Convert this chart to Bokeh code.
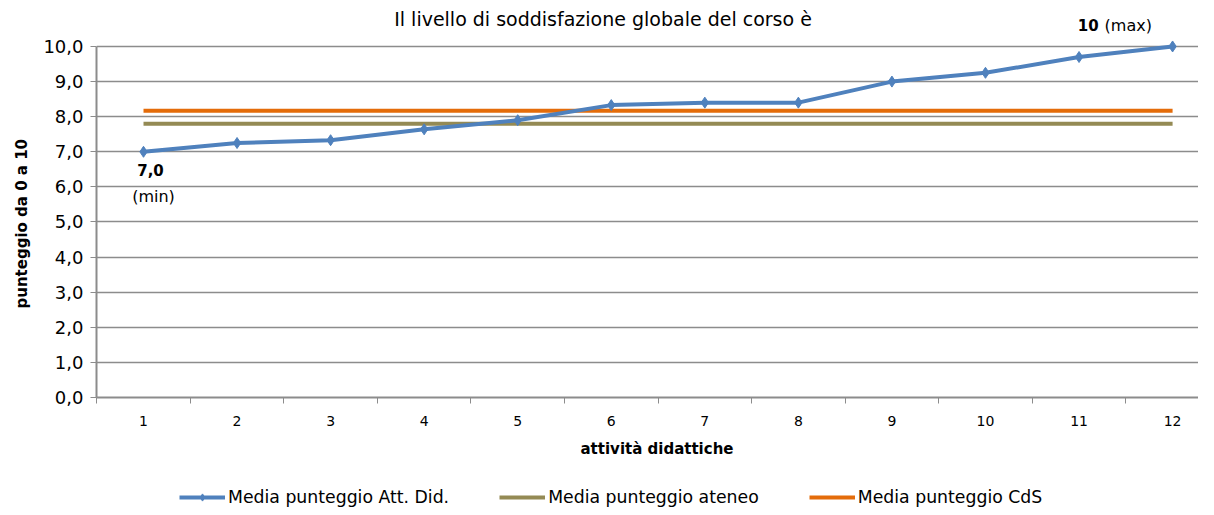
from bokeh.plotting import figure
from bokeh.layouts import column
from bokeh.models import (Range1d, FixedTicker, CustomJSTickFormatter, Legend, LegendItem,
                          Label, Title)
from bokeh.embed import file_html
from bokeh.resources import INLINE

# ---- data ----
attivita = [1, 2, 3, 4, 5, 6, 7, 8, 9, 10, 11, 12]
media_att_did = [7.0, 7.25, 7.33, 7.64, 7.9, 8.33, 8.4, 8.4, 9.0, 9.25, 9.7, 10.0]
media_ateneo = [7.8] * 12
media_cds = [8.17] * 12
y_ticks = [0, 1, 2, 3, 4, 5, 6, 7, 8, 9, 10]
series_names = ["Media punteggio Att. Did.", "Media punteggio ateneo", "Media punteggio CdS"]
min_label = "7,0"
max_label = "10"
title_text = "Il livello  di soddisfazione globale del corso è"
x_title = "attività didattiche"
y_title = "punteggio da 0 a 10"

FONT = "DejaVu Sans"
GRID = "#8c8c8c"
BLUE = "#4f81bd"
OLIVE = "#948a54"
ORANGE = "#e46c0a"

p = figure(width=1198, height=470, output_backend="svg", toolbar_location=None,
           x_range=Range1d(0.4976, 12.277), y_range=Range1d(0, 11.31),
           min_border_left=96, min_border_right=0, min_border_top=0,
           min_border_bottom=73)
p.outline_line_color = None
p.background_fill_color = "white"

# lines
r_ateneo = p.line(attivita, media_ateneo, line_color=OLIVE, line_width=4)
r_cds = p.line(attivita, media_cds, line_color=ORANGE, line_width=4)
r_att = p.line(attivita, media_att_did, line_color=BLUE, line_width=4)
r_att_m = p.scatter(attivita, media_att_did, marker="diamond", size=11,
                    fill_color=BLUE, line_color=BLUE)

# y axis
p.yaxis.ticker = FixedTicker(ticks=y_ticks)
p.yaxis.bounds = (y_ticks[0], y_ticks[-1])
p.yaxis.formatter = CustomJSTickFormatter(code="return tick.toFixed(1).replace('.', ',');")
p.yaxis.major_label_text_font = FONT
p.yaxis.major_label_text_font_size = "18px"
p.yaxis.major_label_text_color = "black"
p.yaxis.major_label_standoff = 7
p.yaxis.major_tick_out = 6
p.yaxis.major_tick_in = 0
p.yaxis.minor_tick_line_color = None
p.yaxis.axis_line_color = GRID
p.yaxis.axis_line_width = 2
p.yaxis.major_tick_line_color = GRID

# x axis
p.xaxis.ticker = FixedTicker(ticks=attivita,
                             minor_ticks=[a - 0.5 for a in attivita] + [attivita[-1] + 0.5])
p.xaxis.major_label_text_font = FONT
p.xaxis.major_label_text_font_size = "14px"
p.xaxis.major_label_text_color = "black"
p.xaxis.major_label_standoff = 12
p.xaxis.major_tick_out = 0
p.xaxis.major_tick_in = 0
p.xaxis.major_tick_line_color = None
p.xaxis.minor_tick_out = 6
p.xaxis.minor_tick_in = 0
p.xaxis.minor_tick_line_color = GRID
p.xaxis.axis_line_color = GRID
p.xaxis.axis_line_width = 2

p.xgrid.grid_line_color = None
p.ygrid.grid_line_color = GRID
p.ygrid.grid_line_width = 1.5

# axis titles (as side-panel titles so they can be placed like the original)
p.add_layout(Title(text=y_title, align="left", offset=89, standoff=20, text_font=FONT,
                   text_font_style="bold", text_font_size="15px", text_color="black"),
             "left")
p.add_layout(Title(text=x_title, align="left", offset=484, standoff=19, text_font=FONT,
                   text_font_style="bold", text_font_size="15px", text_color="black"),
             "below")

# title and annotations
p.add_layout(Label(x=(attivita[0] + attivita[-1]) / 2, y=y_ticks[-1], text=title_text,
                   text_align="center", text_baseline="middle", x_offset=-52, y_offset=27,
                   text_font=FONT, text_font_size="19px", text_color="black"))
p.add_layout(Label(x=attivita[0], y=media_att_did[0], text=min_label, text_align="center",
                   text_baseline="middle", x_offset=7, y_offset=-18, text_font=FONT,
                   text_font_style="bold", text_font_size="15px", text_color="black"))
p.add_layout(Label(x=attivita[0], y=media_att_did[0], text="(min)", text_align="center",
                   text_baseline="middle", x_offset=10, y_offset=-45, text_font=FONT,
                   text_font_size="16px", text_color="black"))
p.add_layout(Label(x=attivita[-1], y=media_att_did[-1], text=max_label, text_align="right",
                   text_baseline="middle", x_offset=-74, y_offset=21, text_font=FONT,
                   text_font_style="bold", text_font_size="15px", text_color="black"))
p.add_layout(Label(x=attivita[-1], y=media_att_did[-1], text="(max)", text_align="left",
                   text_baseline="middle", x_offset=-68, y_offset=21, text_font=FONT,
                   text_font_size="16px", text_color="black"))

# legend strip (separate figure below the chart; its proxy renderers are hidden)
p2 = figure(width=1198, height=37, output_backend="svg", toolbar_location=None,
            x_axis_type=None, y_axis_type=None, min_border=0,
            x_range=Range1d(0, 1), y_range=Range1d(0, 1))
p2.outline_line_color = None
p2.xgrid.grid_line_color = None
p2.ygrid.grid_line_color = None
l_att = p2.line(attivita, media_att_did, line_color=BLUE, line_width=4, visible=False)
m_att = p2.scatter(attivita, media_att_did, marker="diamond", size=9,
                   fill_color=BLUE, line_color=BLUE, visible=False)
l_ateneo = p2.line(attivita, media_ateneo, line_color=OLIVE, line_width=4, visible=False)
l_cds = p2.line(attivita, media_cds, line_color=ORANGE, line_width=4, visible=False)

legend = Legend(items=[
    LegendItem(label=series_names[0], renderers=[l_att, m_att]),
    LegendItem(label=series_names[1], renderers=[l_ateneo]),
    LegendItem(label=series_names[2], renderers=[l_cds]),
], orientation="horizontal", location=(83, 0), glyph_width=46, glyph_height=18,
    label_standoff=3, spacing=50, label_text_font=FONT, label_text_font_size="17.3px",
    label_text_color="black", label_height=18, click_policy="none",
    inactive_fill_alpha=0,
    border_line_color=None, background_fill_alpha=0, margin=0, padding=0)
p2.add_layout(legend)

layout = column(p, p2, spacing=0)
open("out.html", "w").write(file_html(layout, INLINE))
